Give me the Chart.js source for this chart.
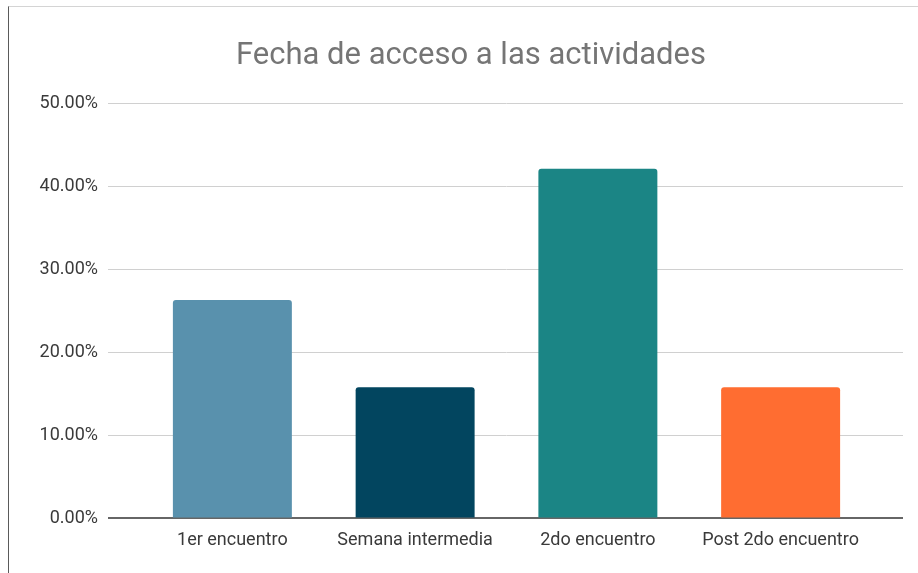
<!DOCTYPE html>
<html>
<head>
<meta charset="utf-8">
<script src="https://cdn.jsdelivr.net/npm/chart.js@4"></script>
<style>
  html, body { margin: 0; padding: 0; background: #fff; }
  #wrap { position: relative; width: 918px; height: 573px; }
  #frame {
    position: absolute; left: 8px; top: 6px; width: 909px; height: 567px;
    border-top: 1px solid #d4d4d4; border-left: 1px solid #5a5a5a;
    pointer-events: none;
  }
  canvas { position: absolute; left: 0; top: 0; }
</style>
</head>
<body>
<div id="wrap">
  <canvas id="chart" width="918" height="573"></canvas>
  <div id="frame"></div>
</div>
<script>
// data
const categories = ['1er encuentro', 'Semana intermedia', '2do encuentro', 'Post 2do encuentro'];
const percentages = [26.3, 15.8, 42.1, 15.8];
const barColors = ['#5991ad', '#02455f', '#1b8585', '#ff6d31'];
const yTicks = [0, 10, 20, 30, 40, 50];

const gridColor = ctx => (ctx.tick && ctx.tick.value === 0) ? '#666666' : '#d0d0d0';
const gridWidth = ctx => (ctx.tick && ctx.tick.value === 0) ? 2 : 1;

const ctx = document.getElementById('chart').getContext('2d');
new Chart(ctx, {
  type: 'bar',
  data: {
    labels: categories,
    datasets: [{
      label: 'Fecha de acceso',
      data: percentages,
      backgroundColor: barColors,
      borderRadius: 3,
      categoryPercentage: 1,
      barPercentage: 0.651
    }]
  },
  options: {
    responsive: false,
    animation: false,
    devicePixelRatio: 1,
    layout: { padding: { left: 24, right: 0, top: 0, bottom: 11 } },
    plugins: {
      legend: { display: false },
      tooltip: { enabled: false },
      title: {
        display: true,
        text: 'Fecha de acceso a las actividades',
        color: '#757575',
        font: { family: 'Roboto', size: 31, weight: 'normal', lineHeight: 1.2 },
        padding: { top: 38, bottom: 28 }
      }
    },
    scales: {
      x: {
        grid: { display: false, drawTicks: false },
        border: { display: false },
        ticks: {
          color: '#3a3a3a',
          padding: 11,
          font: { family: 'Roboto', size: 18, lineHeight: 1.2 }
        }
      },
      y: {
        min: 0,
        max: 50,
        afterBuildTicks: axis => { axis.ticks = yTicks.map(v => ({ value: v })); },
        afterFit: axis => { axis.width = 141 - 24; },
        border: { display: false },
        grid: { color: gridColor, tickColor: gridColor, lineWidth: gridWidth, tickLength: 33 },
        ticks: {
          color: '#3a3a3a',
          padding: 10,
          font: { family: 'Roboto', size: 18 },
          callback: v => v.toFixed(2) + '%'
        }
      },
      y2: {
        position: 'right',
        min: 0,
        max: 50,
        afterBuildTicks: axis => { axis.ticks = yTicks.map(v => ({ value: v })); },
        afterFit: axis => { axis.width = 918 - 872; },
        border: { display: false },
        grid: { drawOnChartArea: false, color: gridColor, tickColor: gridColor, lineWidth: gridWidth, tickLength: 31 },
        ticks: { display: false }
      }
    }
  }
});
</script>
</body>
</html>
